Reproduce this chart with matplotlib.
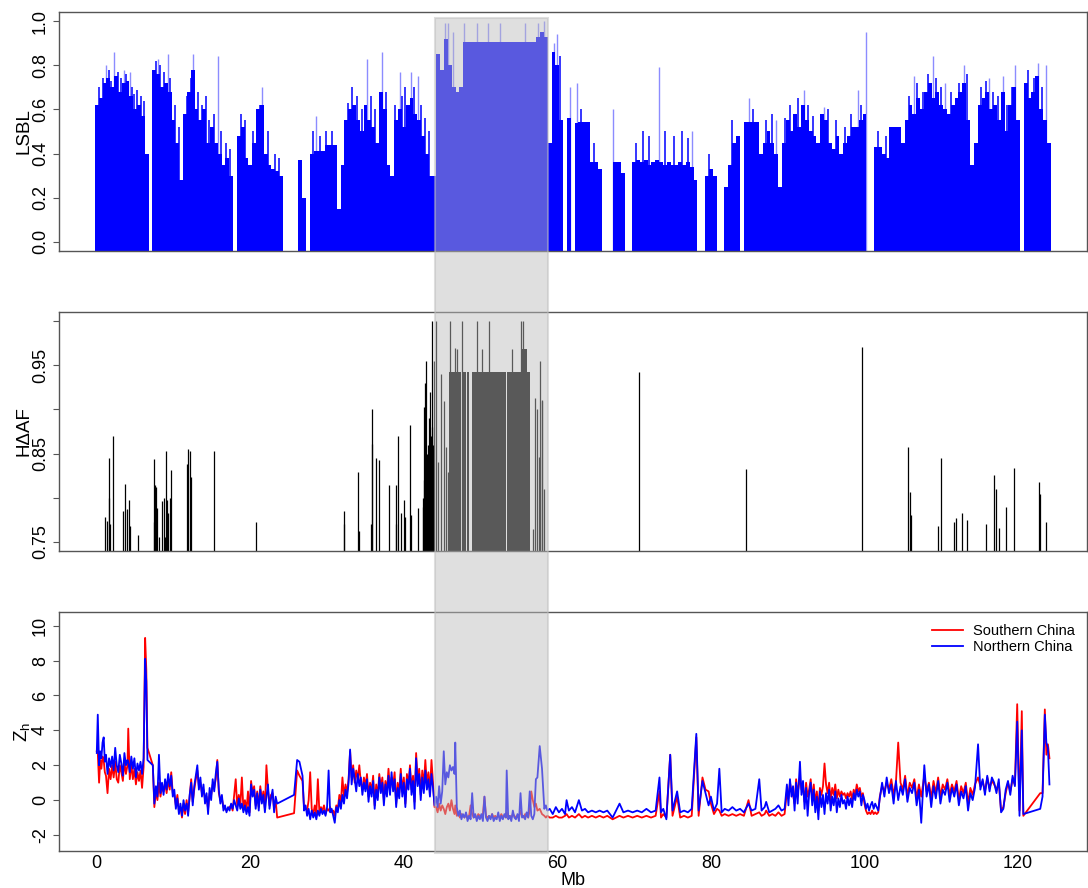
import numpy as np
import matplotlib
matplotlib.use("Agg")
import matplotlib.pyplot as plt
from matplotlib.patches import Rectangle
from matplotlib import transforms

plt.rcParams["font.family"] = ["Liberation Sans", "DejaVu Sans"]

# ---- LSBL: values in 0.5 Mb bins starting at 0 Mb (0 = no data) ----
LSBL_BIN = 0.5
lsbl_val = [
    0.62, 0.65, 0.72, 0.74, 0.70, 0.75, 0.68, 0.72, 0.73, 0.66,
    0.60, 0.62, 0.57, 0.40, 0, 0.78, 0.76, 0.70, 0.72, 0.68,
    0.55, 0.45, 0.28, 0.58, 0.68, 0.78, 0.60, 0.55, 0.60, 0.45,
    0.52, 0.45, 0.40, 0.35, 0.38, 0.30, 0, 0.48, 0.52, 0.38,
    0.35, 0.45, 0.60, 0.62, 0.40, 0.35, 0.33, 0.32, 0.30, 0,
    0, 0, 0, 0.37, 0.20, 0, 0.40, 0.41, 0.41, 0.41,
    0.44, 0.44, 0.44, 0.15, 0.35, 0.55, 0.60, 0.62, 0.55, 0.50,
    0.62, 0.55, 0.52, 0.45, 0.68, 0.60, 0.35, 0.30, 0.55, 0.60,
    0.52, 0.62, 0.65, 0.58, 0.55, 0.48, 0.40, 0.30, 0.30, 0.85,
    0.78, 0.92, 0.80, 0.70, 0.68, 0.70, 0.906, 0.906, 0.906, 0.906,
    0.906, 0.906, 0.906, 0.906, 0.906, 0.906, 0.906, 0.906, 0.906, 0.906,
    0.906, 0.906, 0.906, 0.906, 0.906, 0.93, 0.95, 0.93, 0.45, 0.86,
    0.80, 0.55, 0, 0.56, 0, 0.54, 0.545, 0.545, 0.545, 0.36,
    0.36, 0.33, 0, 0, 0, 0.36, 0.36, 0.31, 0, 0,
    0.36, 0.37, 0.36, 0.37, 0.35, 0.36, 0.37, 0.36, 0.35, 0.36,
    0.35, 0.35, 0.36, 0.35, 0.36, 0.34, 0.28, 0, 0, 0.30,
    0.33, 0.30, 0, 0, 0.25, 0.35, 0.45, 0.48, 0, 0.545,
    0.545, 0.545, 0.545, 0.40, 0.45, 0.50, 0.45, 0.40, 0.25, 0.45,
    0.55, 0.50, 0.58, 0.52, 0.62, 0.55, 0.50, 0.48, 0.45, 0.58,
    0.55, 0.45, 0.42, 0.48, 0.40, 0.45, 0.48, 0.52, 0.52, 0.55,
    0.58, 0, 0, 0.43, 0.43, 0.40, 0.38, 0.52, 0.52, 0.52,
    0.45, 0.55, 0.62, 0.58, 0.65, 0.60, 0.68, 0.72, 0.65, 0.68,
    0.62, 0.60, 0.58, 0.62, 0.65, 0.68, 0.72, 0.55, 0.35, 0.45,
    0.62, 0.65, 0.68, 0.60, 0.62, 0.55, 0.68, 0.50, 0.62, 0.70,
    0.55, 0, 0.72, 0.65, 0.68, 0.75, 0.60, 0.55, 0.45,
]
# single SNPs standing above the dense part
lsbl_peak_mb = [
    0.25, 0.8, 1.6, 1.9, 2.7, 3.1, 3.8, 4.6, 4.9, 5.3,
    5.8, 6.2, 7.7, 8.3, 8.7, 9.6, 10.2, 10.7, 11.8, 12.3,
    13.2, 13.7, 14.2, 14.6, 15.3, 16.2, 16.8, 17.3, 18.8, 19.3,
    20.3, 21.2, 22.3, 23.2, 23.8, 28.2, 29.1, 29.8, 30.7, 32.7,
    33.3, 33.9, 34.6, 35.7, 36.3, 37.7, 38.9, 39.8, 40.2, 41.3,
    42.2, 42.8, 43.3, 60.3, 63.1, 64.8, 70.2, 71.2, 72.0, 74.0,
    75.2, 76.3, 77.0, 79.8, 82.8, 85.5, 87.2, 88.0, 89.7, 90.3,
    91.4, 92.7, 93.3, 95.3, 96.3, 97.5, 98.3, 99.6, 101.8, 102.8,
    105.8, 106.9, 107.6, 108.3, 109.3, 110.0, 111.3, 112.3, 113.4, 115.2,
    115.8, 116.8, 117.4, 118.6, 119.2, 121.3, 122.1, 123.1,
]
lsbl_peak_val = [
    0.70, 0.74, 0.78, 0.73, 0.77, 0.74, 0.76, 0.70, 0.67, 0.69,
    0.66, 0.64, 0.82, 0.80, 0.77, 0.74, 0.62, 0.52, 0.66, 0.74,
    0.68, 0.62, 0.66, 0.55, 0.58, 0.50, 0.45, 0.42, 0.58, 0.55,
    0.50, 0.62, 0.50, 0.40, 0.38, 0.50, 0.48, 0.50, 0.50, 0.63,
    0.70, 0.66, 0.60, 0.66, 0.60, 0.68, 0.62, 0.66, 0.70, 0.70,
    0.62, 0.56, 0.50, 0.84, 0.60, 0.45, 0.45, 0.50, 0.48, 0.50,
    0.48, 0.50, 0.47, 0.40, 0.55, 0.60, 0.55, 0.58, 0.56, 0.62,
    0.65, 0.62, 0.57, 0.60, 0.55, 0.52, 0.58, 0.62, 0.50, 0.48,
    0.66, 0.72, 0.68, 0.76, 0.74, 0.70, 0.68, 0.72, 0.76, 0.70,
    0.73, 0.68, 0.66, 0.62, 0.70, 0.78, 0.74, 0.70,
]
# faint tall outliers
lsbl_spike_mb = [
    1.2, 2.3, 3.5, 4.3, 8.0, 9.3, 12.6, 15.8, 21.5, 28.5,
    35.2, 37.2, 39.5, 40.9, 41.8, 45.4, 45.8, 46.4, 47.8, 49.5,
    51.0, 52.5, 55.8, 57.5, 58.2, 59.6, 60.0, 61.6, 62.5, 67.2,
    73.3, 77.5, 84.9, 88.5, 92.1, 94.7, 99.1, 100.2, 106.5, 108.9,
    110.5, 113.0, 116.2, 118.0, 119.6, 122.6, 123.6,
]
lsbl_spike_val = [
    0.80, 0.86, 0.78, 0.77, 0.83, 0.85, 0.85, 0.84, 0.70, 0.57,
    0.83, 0.86, 0.77, 0.77, 0.75, 0.99, 0.99, 0.95, 0.99, 0.99,
    0.99, 0.99, 0.99, 0.99, 1.00, 0.90, 0.94, 0.70, 0.72, 0.60,
    0.79, 0.50, 0.65, 0.55, 0.69, 0.61, 0.69, 0.95, 0.75, 0.84,
    0.72, 0.80, 0.74, 0.75, 0.80, 0.81, 0.80,
]

# ---- H-delta-AF ----
haf_mb = [
    1.13, 1.38, 1.60, 1.65, 1.75, 2.17, 3.40, 3.73, 3.90, 4.20,
    4.30, 5.40, 7.40, 7.45, 7.60, 7.70, 7.87, 8.10, 8.50, 8.70,
    8.85, 9.00, 9.10, 9.25, 9.50, 9.73, 11.74, 11.90, 12.10, 12.30,
    15.26, 20.73, 32.20, 32.25, 34.00, 34.20, 35.75, 35.80, 35.90, 36.40,
    36.80, 38.10, 38.95, 39.00, 39.30, 39.60, 40.00, 40.20, 40.86, 40.90,
    41.80, 42.50, 42.55, 42.60, 42.65, 42.70, 42.75, 42.80, 42.85, 42.95,
    43.00, 43.10, 43.15, 43.25, 43.30, 43.40, 43.45, 43.56, 43.65, 43.73,
    43.80, 43.90, 44.17, 44.40, 44.90, 45.20, 45.50, 45.70, 46.00, 46.60,
    46.90, 47.60, 49.50, 50.20, 51.10, 54.10, 55.20, 55.50, 56.80, 57.10,
    57.40, 57.60, 57.80, 57.95, 58.05, 58.20, 70.65, 84.60, 99.70, 105.70,
    105.90, 106.10, 109.60, 110.00, 111.70, 111.90, 112.70, 113.30, 115.90, 116.90,
    117.10, 117.50, 118.50, 119.50, 122.70, 122.90, 123.60,
]
haf_val = [
    0.778, 0.774, 0.845, 0.800, 0.770, 0.870, 0.785, 0.816, 0.787, 0.798,
    0.768, 0.758, 0.844, 0.772, 0.815, 0.812, 0.788, 0.756, 0.796, 0.800,
    0.755, 0.853, 0.797, 0.783, 0.800, 0.831, 0.838, 0.855, 0.853, 0.823,
    0.853, 0.772, 0.785, 0.770, 0.829, 0.762, 0.770, 0.900, 0.861, 0.845,
    0.843, 0.814, 0.770, 0.815, 0.870, 0.783, 0.797, 0.778, 0.882, 0.780,
    0.788, 0.800, 0.790, 0.903, 0.820, 0.810, 0.930, 0.800, 0.830, 0.955,
    0.850, 0.860, 0.820, 0.890, 0.840, 0.920, 0.830, 0.870, 0.880, 1.000,
    0.860, 0.955, 1.000, 0.840, 0.940, 0.910, 0.857, 0.829, 1.000, 0.970,
    0.968, 1.000, 1.000, 0.968, 1.000, 0.968, 1.000, 1.000, 0.765, 0.913,
    0.900, 0.846, 0.955, 0.910, 0.911, 0.810, 0.942, 0.832, 0.971, 0.857,
    0.807, 0.781, 0.768, 0.845, 0.773, 0.777, 0.783, 0.775, 0.770, 0.826,
    0.810, 0.766, 0.790, 0.834, 0.818, 0.804, 0.773,
]
# runs of consecutive SNPs sharing one value
haf_run_start = [45.86, 47.55, 48.25, 48.85, 53.45, 55.40]
haf_run_end = [47.45, 48.15, 48.55, 53.35, 56.40, 56.10]
haf_run_val = [0.942, 0.942, 0.942, 0.942, 0.942, 0.968]

# ---- Z_h for both populations ----
zh_mb = [
    # 0 - 7.3
    0.0, 0.13, 0.3, 0.45, 0.6, 0.75, 0.9, 1.05, 1.2, 1.4,
    1.6, 1.8, 2.0, 2.2, 2.4, 2.6, 2.8, 3.0, 3.2, 3.4,
    3.6, 3.8, 4.0, 4.1, 4.3, 4.5, 4.7, 4.9, 5.1, 5.3,
    5.5, 5.7, 5.9, 6.1, 6.3, 6.45, 6.6, 7.3,
    # 7.5 - 23.5
    7.5, 7.7, 7.9, 8.1, 8.3, 8.5, 8.7, 8.9, 9.1, 9.3,
    9.5, 9.7, 9.9, 10.1, 10.3, 10.5, 10.7, 10.9, 11.1, 11.3,
    11.5, 11.7, 11.9, 12.1, 12.3, 12.5, 12.7, 12.9, 13.1, 13.3,
    13.5, 13.7, 13.9, 14.1, 14.3, 14.5, 14.7, 14.9, 15.1, 15.3,
    15.5, 15.7, 15.9, 16.1, 16.3, 16.5, 16.7, 16.9, 17.1, 17.3,
    17.5, 17.7, 17.9, 18.1, 18.3, 18.5, 18.7, 18.9, 19.1, 19.3,
    19.5, 19.7, 19.9, 20.1, 20.3, 20.5, 20.7, 20.9, 21.1, 21.3,
    21.5, 21.7, 21.9, 22.1, 22.3, 22.5, 22.7, 22.9, 23.1, 23.3,
    23.5,
    # 25.7 - 44
    25.7, 26.1, 26.4, 26.8, 27.0, 27.2, 27.4, 27.6, 27.8, 28.0,
    28.2, 28.4, 28.6, 28.8, 29.0, 29.2, 29.4, 29.6, 29.8, 30.0,
    30.2, 30.4, 30.6, 30.8, 31.0, 31.2, 31.4, 31.6, 31.8, 32.0,
    32.2, 32.4, 32.6, 32.8, 33.0, 33.2, 33.4, 33.6, 33.8, 34.0,
    34.2, 34.4, 34.6, 34.8, 35.0, 35.2, 35.4, 35.6, 35.8, 36.0,
    36.2, 36.4, 36.6, 36.8, 37.0, 37.2, 37.4, 37.6, 37.8, 38.0,
    38.2, 38.4, 38.6, 38.8, 39.0, 39.2, 39.4, 39.6, 39.8, 40.0,
    40.2, 40.4, 40.6, 40.8, 41.0, 41.2, 41.4, 41.6, 41.8, 42.0,
    42.2, 42.4, 42.6, 42.8, 43.0, 43.2, 43.4, 43.6, 43.8, 44.0,
    # 44.2 - 58.7
    44.2, 44.4, 44.6, 44.8, 45.0, 45.2, 45.4, 45.6, 45.8, 46.0,
    46.2, 46.4, 46.6, 46.7, 46.9, 47.1, 47.3, 47.5, 47.7, 47.9,
    48.1, 48.3, 48.5, 48.7, 48.9, 49.1, 49.3, 49.5, 49.7, 49.9,
    50.1, 50.3, 50.5, 50.7, 50.9, 51.1, 51.3, 51.5, 51.7, 51.9,
    52.1, 52.3, 52.5, 52.7, 52.9, 53.1, 53.3, 53.4, 53.6, 53.8,
    54.0, 54.2, 54.4, 54.6, 54.8, 55.0, 55.2, 55.4, 55.6, 55.8,
    56.0, 56.2, 56.4, 56.6, 56.8, 57.0, 57.2, 57.4, 57.7, 58.0,
    58.3, 58.5, 58.7,
    # 59 - 89.6
    59.0, 59.4, 59.8, 60.2, 60.6, 61.0, 61.2, 61.5, 61.9, 62.3,
    62.8, 63.2, 63.6, 64.0, 64.5, 65.0, 65.5, 66.0, 66.5, 67.2,
    68.1, 68.6, 69.2, 69.8, 70.4, 71.0, 71.6, 72.2, 72.8, 73.3,
    73.5, 73.8, 74.2, 74.7, 75.0, 75.6, 76.0, 76.5, 77.0, 77.5,
    78.1, 78.4, 78.9, 79.3, 79.7, 80.0, 80.4, 80.8, 81.1, 81.4,
    81.8, 82.3, 82.8, 83.3, 83.8, 84.3, 84.9, 85.3, 85.8, 86.3,
    86.6, 87.0, 87.2, 87.6, 88.0, 88.4, 88.8, 89.2, 89.6,
    # 89.9 - 102
    89.9, 90.1, 90.3, 90.5, 90.7, 90.9, 91.1, 91.3, 91.6, 91.8,
    92.0, 92.2, 92.4, 92.6, 92.8, 93.0, 93.2, 93.4, 93.6, 93.8,
    94.0, 94.2, 94.4, 94.6, 94.8, 95.0, 95.2, 95.4, 95.6, 95.8,
    96.0, 96.2, 96.4, 96.6, 96.8, 97.0, 97.2, 97.4, 97.6, 97.8,
    98.0, 98.2, 98.4, 98.6, 98.8, 99.0, 99.2, 99.4, 99.6, 99.8,
    100.0, 100.2, 100.4, 100.6, 100.8, 101.0, 101.2, 101.4, 101.6, 101.8,
    102.0,
    # 102.3 - 120.7
    102.3, 102.6, 102.9, 103.2, 103.5, 103.8, 104.1, 104.4, 104.7, 105.0,
    105.3, 105.6, 105.9, 106.2, 106.5, 106.8, 107.1, 107.4, 107.8, 108.1,
    108.4, 108.7, 109.0, 109.3, 109.6, 109.9, 110.2, 110.5, 110.8, 111.1,
    111.4, 111.7, 112.0, 112.3, 112.6, 112.9, 113.2, 113.5, 113.8, 114.1,
    114.4, 114.8, 115.1, 115.4, 115.7, 116.0, 116.3, 116.6, 116.9, 117.2,
    117.5, 117.8, 118.1, 118.4, 118.7, 119.0, 119.3, 119.6, 119.9, 120.2,
    120.5, 120.7,
    # 122.9 - 124.1
    122.9, 123.2, 123.5, 123.7, 123.9, 124.1,
]
zh_north = [
    2.7, 4.9, 2.0, 2.8, 2.4, 3.3, 3.6, 2.2, 2.6, 1.5,
    2.4, 1.9, 2.5, 1.7, 3.0, 2.0, 1.6, 2.6, 2.1, 1.4,
    2.7, 2.0, 2.3, 2.2, 1.6, 2.5, 1.8, 2.4, 1.3, 2.1,
    1.7, 2.2, 1.5, 2.4, 8.1, 6.8, 2.3, 2.0,
    -0.2, 0.8, 0.2, 2.6, 0.4, 1.0, 0.3, 1.2, 0.6, 1.5,
    0.8, 1.4, 0.2, 0.6, -0.5, 0.1, -0.8, -0.2, -0.9, 0.0,
    -0.6, -0.2, -0.9, 0.3, 1.0, -0.3, 0.8, 1.4, 2.0, 0.6,
    1.3, 0.2, 0.9, -0.2, 0.4, -0.8, 0.7, 0.0, 1.2, 0.5,
    1.5, 2.2, 0.6, -0.2, 0.3, -0.6, -0.3, -0.7, -0.4, -0.6,
    -0.2, -0.5, 0.0, -0.3, -0.6, 0.1, -0.5, -0.2, -0.7, -0.3,
    -0.8, -0.4, -0.9, 0.9, 0.2, 0.6, -0.5, 0.4, -0.6, 0.6,
    -0.2, 0.3, -0.7, 0.2, 0.9, -0.5, 0.1, 0.6, -0.7, 0.2,
    -0.2,
    0.3, 2.3, 2.2, 1.4, -0.6, -0.3, -0.9, -0.5, -1.1, -0.6,
    -1.0, -0.7, -1.1, -0.6, -0.9, -0.5, -0.8, -0.6, -0.9, -0.4,
    1.7, -0.7, -0.5, -0.9, -1.3, -0.4, -0.7, 0.0, -0.5, 0.3,
    -0.2, 0.6, 0.1, 1.0, 2.9, 0.9, 1.8, 1.2, 0.5, 1.5,
    0.8, 1.3, 0.3, 1.0, 0.5, 1.2, -0.1, 0.8, 0.2, 1.1,
    -0.5, 0.6, 0.0, 1.3, 0.4, 1.0, -0.3, 0.9, 0.2, 1.4,
    0.3, 1.6, 0.5, 1.2, -0.4, 0.7, 0.1, 1.5, 0.2, 1.0,
    -0.4, 1.2, 0.6, 1.8, 0.3, 1.1, -0.5, 2.4, 0.8, 1.5,
    0.0, 1.3, 0.4, 1.7, 0.6, 1.2, 0.2, 1.5, 0.7, -0.3,
    0.2, -0.4, 0.8, -0.2, 0.5, 2.8, 0.9, 1.6, 1.3, 2.0,
    1.7, 1.9, 1.5, 3.3, -0.4, -0.9, -0.6, -1.1, -0.8, -1.0,
    -0.7, -1.2, -0.9, -1.1, 0.4, -1.0, -0.8, -1.2, -0.9, -1.1,
    -0.8, -1.2, 0.2, -1.0, -1.2, -0.9, -1.1, -0.8, -1.2, -1.0,
    -1.1, -0.7, -1.2, -0.9, -1.1, -0.8, -1.0, 1.7, -1.1, -0.9,
    -1.2, -0.6, -1.0, -1.1, -0.8, -1.2, 0.4, -1.0, -0.9, -1.1,
    -0.7, -1.0, 0.5, -0.9, -1.1, -0.8, 1.2, 1.3, 3.1, 1.8,
    -0.5, -0.3, -0.6,
    -0.5, -0.8, -0.4, -0.7, -0.5, -0.8, 0.0, -0.6, -0.4, -0.7,
    0.0, -0.6, -0.5, -0.7, -0.6, -0.7, -0.6, -0.7, -0.6, -1.0,
    -0.2, -0.7, -0.6, -0.7, -0.6, -0.7, -0.5, -0.7, -0.6, 1.3,
    -0.7, -0.5, -1.1, 2.6, -0.6, 0.5, -0.7, -0.6, -0.7, -0.5,
    3.8, -0.6, 1.1, 0.4, -0.3, 0.2, -0.6, -0.2, 1.8, -0.7,
    -0.5, -0.6, -0.4, -0.6, -0.5, -0.7, -0.2, -0.6, -0.5, 1.2,
    -0.6, -0.4, -0.1, -0.7, -0.6, -0.5, -0.3, -0.6, -0.5,
    0.9, -0.3, 1.2, 0.2, 0.8, -0.6, 1.0, -0.2, 2.2, 0.3,
    1.1, -0.5, 0.7, -0.9, 0.4, 1.0, -0.3, 0.6, -0.7, 0.2,
    -1.1, 0.5, -0.4, 0.3, -0.8, 0.4, -0.2, 0.6, -0.6, 0.2,
    -0.3, 0.5, -0.7, 0.1, -0.4, 0.3, -0.2, 0.0, -0.5, 0.2,
    -0.3, 0.1, -0.4, 0.4, 0.0, 0.6, 0.2, 0.5, -0.3, 0.3,
    0.0, -0.5, -0.2, -0.6, -0.3, -0.1, -0.5, -0.2, -0.4, -0.6,
    0.1,
    1.0, 0.2, 1.3, 0.4, 0.9, -0.2, 1.1, 0.0, 0.8, 0.3,
    1.2, -0.1, 0.7, 0.4, 1.0, -0.3, 0.6, -1.3, 2.0, 0.2,
    0.9, -0.4, 0.8, 0.1, 1.1, -0.2, 0.6, 0.3, 1.0, -0.1,
    0.7, 0.2, 0.9, -0.3, 0.5, 0.1, 0.8, -0.6, 0.4, 0.0,
    0.7, 3.2, 0.6, 1.2, 0.3, 1.4, 0.5, 1.3, 1.0, 0.4,
    1.2, -0.7, -0.5, 0.6, 1.1, 0.3, 1.4, 0.8, 4.5, -0.9,
    4.0, -0.8,
    -0.5, 0.2, 4.9, 3.3, 3.0, 0.9,
]
zh_south = [
    2.8, 2.7, 1.0, 2.3, 1.8, 2.5, 2.3, 1.6, 1.4, 0.4,
    1.8, 1.2, 2.0, 1.3, 2.2, 1.2, 1.0, 2.0, 1.6, 1.1,
    2.2, 1.5, 2.0, 4.1, 1.2, 2.1, 1.2, 1.8, 0.9, 1.6,
    1.1, 1.7, 0.7, 1.9, 9.3, 7.5, 3.0, 2.0,
    -0.4, 0.5, 0.0, 1.0, 0.2, 0.8, 0.5, 1.0, 0.4, 1.2,
    0.6, 1.6, 0.4, 0.3, -0.3, 0.3, -0.6, -0.4, -1.0, -0.2,
    -0.8, 0.0, -0.7, 0.2, 1.2, -0.1, 0.6, 1.2, 1.7, 0.8,
    1.0, 0.4, 0.6, 0.1, 0.2, -0.5, 0.4, 0.3, 0.9, 0.7,
    1.2, 2.3, 0.4, 0.0, 0.1, -0.4, -0.5, -0.6, -0.5, -0.4,
    -0.3, -0.6, 0.3, 1.2, -0.4, 0.3, -0.3, 1.3, -0.5, 0.0,
    -0.6, 0.5, -0.7, 1.1, 0.4, 0.8, -0.3, 0.5, -0.4, 0.8,
    0.0, 0.5, -0.5, 2.0, 0.6, -0.3, 0.3, 0.4, -0.5, 0.0,
    -1.0,
    -0.75, 1.7, 1.4, 1.1, -0.4, -0.5, -0.6, 0.0, 1.6, -0.5,
    -0.8, -0.3, -0.8, 1.2, -0.7, -0.4, -0.6, -0.3, -0.8, -0.5,
    -0.6, -0.4, -0.7, -0.6, -0.9, -0.3, -0.5, 0.3, -0.2, 1.3,
    0.2, 0.9, 0.4, 1.2, 2.8, 1.3, 2.0, 1.0, 1.7, 1.2,
    2.0, 1.0, 0.6, 1.3, 0.8, 1.5, 0.2, 1.0, 0.5, 1.4,
    -0.3, 0.9, 0.2, 1.5, 0.7, 1.3, 0.0, 1.1, 0.5, 1.8,
    0.6, 1.3, 0.8, 1.6, -0.2, 1.0, 0.4, 1.8, 0.5, 1.3,
    -0.2, 1.5, 0.9, 2.0, 0.6, 1.4, -0.1, 2.7, 1.1, 1.8,
    0.3, 1.7, 0.8, 2.3, 0.9, 1.6, 0.5, 2.3, 1.0, -0.4,
    -0.4, -0.7, -0.2, -0.6, -0.3, -0.5, -0.8, -0.4, -0.2, -0.6,
    0.0, -0.5, -0.8, -0.3, -0.9, -0.7, -1.0, -0.8, -0.9, -1.0,
    -0.8, -1.0, -0.9, -0.3, -0.8, -1.0, -0.9, -1.0, -0.8, -0.9,
    -1.0, -0.8, 0.2, -0.9, -1.0, -0.9, -1.0, -0.8, -1.0, -0.9,
    -1.0, -0.9, -1.0, -0.8, -1.0, -0.9, -1.0, -0.7, -1.0, -0.9,
    -1.0, -0.8, -0.9, -1.0, -0.9, -1.0, -0.6, -0.9, -1.0, -0.8,
    -0.9, -1.0, -0.6, 0.5, 0.0, -0.4, -0.2, -0.6, -0.5, -0.8,
    -0.9, -1.0, -0.9,
    -1.0, -1.0, -0.9, -1.0, -1.0, -0.9, -0.8, -1.0, -0.9, -1.0,
    -0.8, -1.0, -0.9, -1.0, -0.9, -1.0, -0.9, -1.0, -0.9, -1.1,
    -0.9, -1.0, -0.9, -1.0, -0.9, -1.0, -0.9, -1.0, -0.9, 0.5,
    -1.0, -0.8, -1.0, 2.6, -0.9, 0.2, -1.0, -0.9, -1.0, -0.9,
    3.6, -0.9, 1.3, 0.6, 0.5, -0.2, -0.8, -0.5, -0.6, -0.9,
    -0.8, -0.9, -0.8, -0.9, -0.8, -0.9, 0.0, -0.9, -0.8, -0.7,
    -0.9, -0.8, -0.6, -0.9, -0.8, -0.9, -0.7, -0.9, -0.8,
    0.5, 0.1, 1.0, 0.5, 0.3, -0.2, 1.2, 0.4, 1.3, 0.6,
    0.8, -0.1, 1.0, 0.2, 0.6, 1.2, 0.0, 0.9, -0.2, 0.5,
    -0.6, 0.7, 0.3, 0.8, 2.1, 0.9, 0.4, 1.0, 0.0, 0.7,
    0.3, 0.9, 0.1, 0.6, 0.2, 0.5, 0.3, 0.4, 0.1, 0.4,
    0.2, 0.5, 0.0, 0.6, 0.3, 0.9, 0.5, 0.7, 0.2, 0.4,
    -0.2, -0.6, -0.8, -0.7, -0.8, -0.6, -0.8, -0.7, -0.8, -0.7,
    0.2,
    0.8, 0.5, 1.0, 0.6, 1.2, 0.3, 1.0, 3.3, 1.0, 0.6,
    1.4, 0.2, 1.0, 0.7, 1.2, 0.1, 0.9, 0.2, 1.4, 0.5,
    1.0, 0.1, 1.1, 0.4, 1.3, 0.2, 0.9, 0.6, 1.2, 0.3,
    0.9, 0.5, 1.1, 0.0, 0.8, 0.4, 1.0, -0.2, 0.7, 0.3,
    0.9, 1.3, 0.8, 1.1, 0.5, 1.3, 0.7, 1.1, 0.9, 0.6,
    1.0, -0.6, -0.4, 0.4, 1.0, 0.5, 1.2, 0.9, 5.5, -0.6,
    5.1, -0.9,
    0.4, 0.4, 5.2, 2.6, 3.2, 2.4,
]

# highlighted region (Mb)
region_start, region_end = 44.03, 58.8

XLIM = (-4.96, 128.96)
FRAME = "#555555"


def style_axis(ax, show_x=False):
    for s in ax.spines.values():
        s.set_color(FRAME)
        s.set_linewidth(1.0)
    ax.set_xlim(*XLIM)
    ax.tick_params(axis="y", labelrotation=90, labelsize=13, length=4,
                   width=0.8, color=FRAME, pad=3)
    for lab in ax.get_yticklabels():
        lab.set_va("center")
    if show_x:
        ax.tick_params(axis="x", labelsize=13, length=0, pad=3)
    else:
        ax.set_xticks([])


fig = plt.figure(figsize=(10.88, 8.88), dpi=100)
ax1 = fig.add_axes([0.05395, 0.7177, 0.9449, 0.2685])
ax2 = fig.add_axes([0.05395, 0.3798, 0.9449, 0.2685])
ax3 = fig.add_axes([0.05395, 0.0420, 0.9449, 0.2685])

# LSBL
lsbl = np.array(lsbl_val, dtype=float)
lsbl_mb = np.arange(len(lsbl)) * LSBL_BIN
has = lsbl > 0
ax1.bar(lsbl_mb[has], lsbl[has] + 0.04, bottom=-0.04, width=LSBL_BIN,
        color="blue", linewidth=0)
ax1.vlines(lsbl_peak_mb, -0.04, lsbl_peak_val, color="blue", alpha=0.85, lw=1.3)
ax1.vlines(lsbl_spike_mb, -0.04, lsbl_spike_val, color="blue", alpha=0.45, lw=1.0)
ax1.set_ylim(-0.04, 1.04)
ax1.set_yticks([0.0, 0.2, 0.4, 0.6, 0.8, 1.0])
ax1.set_yticklabels(["0.0", "0.2", "0.4", "0.6", "0.8", "1.0"])
style_axis(ax1)
ax1.set_ylabel("LSBL", fontsize=13.5, va="center")
ax1.yaxis.set_label_coords(-0.034, 0.5)

# H-delta-AF
ax2.vlines(haf_mb, 0.74, haf_val, color="black", lw=0.9)
starts = np.array(haf_run_start)
ends = np.array(haf_run_end)
ax2.bar(starts, np.array(haf_run_val) - 0.74, bottom=0.74, width=ends - starts,
        align="edge", color="black", linewidth=0)
ax2.set_ylim(0.74, 1.01)
ax2.set_yticks([0.75, 0.80, 0.85, 0.90, 0.95, 1.00])
ax2.set_yticklabels(["0.75", "", "0.85", "", "0.95", ""])
style_axis(ax2)
ax2.set_ylabel("H\u0394AF", fontsize=13.5, va="center")
ax2.yaxis.set_label_coords(-0.034, 0.5)

# Z_h
ax3.plot(zh_mb, zh_south, color="red", lw=1.3, label="Southern China")
ax3.plot(zh_mb, zh_north, color="blue", lw=1.3, label="Northern China")
ax3.set_ylim(-2.9, 10.77)
ax3.set_yticks([-2, 0, 2, 4, 6, 8, 10])
ax3.set_yticklabels(["-2", "0", "2", "4", "6", "8", "10"])
ax3.set_xticks([0, 20, 40, 60, 80, 100, 120])
style_axis(ax3, show_x=True)
ax3.set_ylabel(r"$\mathregular{Z_h}$", fontsize=13.5, va="center")
ax3.yaxis.set_label_coords(-0.036, 0.5)
ax3.set_xlabel("Mb", fontsize=13, labelpad=0)
ax3.legend(loc="upper right", frameon=False, fontsize=10.5, handlelength=2.1,
           handletextpad=0.7, labelspacing=0.15, borderaxespad=0.4)

# shaded region spanning all three panels
trans = transforms.blended_transform_factory(ax3.transData, fig.transFigure)
shade = Rectangle((region_start, 0.039), region_end - region_start, 0.9404,
                  transform=trans, facecolor=(189 / 255, 189 / 255, 189 / 255, 0.475),
                  edgecolor=(0.75, 0.75, 0.75, 0.5), linewidth=1.5, zorder=10)
fig.add_artist(shade)

fig.savefig("out.png", dpi=100)
